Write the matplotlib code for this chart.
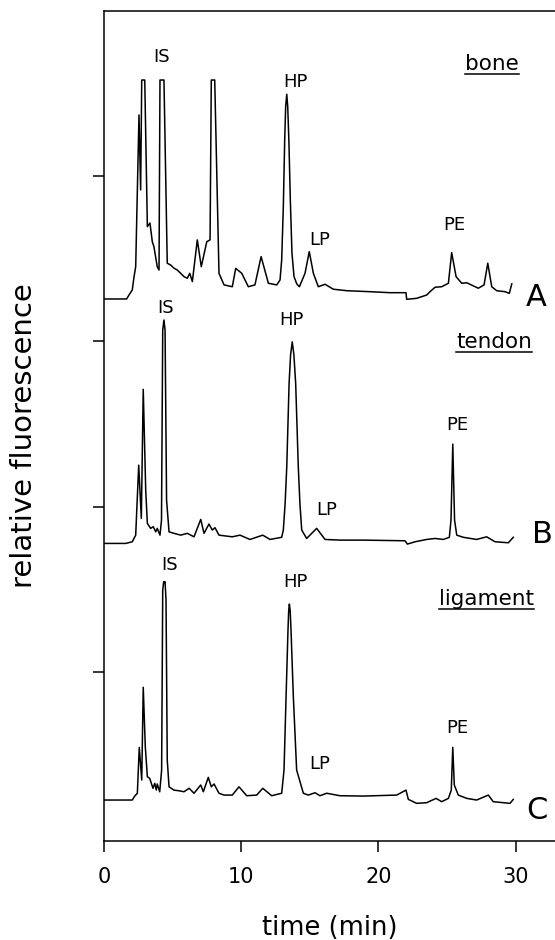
import matplotlib
matplotlib.use("Agg")
import matplotlib.pyplot as plt
import numpy as np

# ---------------- data (time in min, signal above own baseline) ----------------
time_A = [0.0, 1.65, 1.82, 2.06, 2.19, 2.31, 2.55, 2.67, 2.75, 2.97, 3.16, 3.35, 3.52, 3.64,
          3.88, 4.01, 4.08, 4.37, 4.61, 4.86, 5.10, 5.34, 5.59, 5.83, 6.07, 6.25, 6.44, 6.80,
          7.09, 7.49, 7.73, 7.82, 8.07, 8.38, 8.75, 9.35, 9.60, 10.04, 10.52, 11.0, 11.45,
          11.98, 12.59, 12.83, 12.95, 13.07, 13.17, 13.24, 13.32, 13.39, 13.48, 13.58, 13.70,
          13.85, 14.05, 14.24, 14.65, 14.96, 15.26, 15.62, 16.11, 16.71, 17.69, 19.39, 20.85,
          22.01, 22.06, 22.79, 23.52, 23.76, 24.13, 24.61, 25.10, 25.34, 25.66, 26.07, 26.44,
          26.92, 27.28, 27.70, 27.97, 28.26, 28.62, 29.23, 29.54, 29.72]
signal_A = [0.0, 0.0, 0.024, 0.054, 0.135, 0.195, 1.112, 0.659, 1.323, 1.323, 0.437, 0.459,
            0.346, 0.316, 0.195, 0.175, 1.323, 1.323, 0.216, 0.205, 0.186, 0.175, 0.155, 0.135,
            0.125, 0.155, 0.105, 0.357, 0.195, 0.346, 0.357, 1.323, 1.323, 0.155, 0.085, 0.074,
            0.185, 0.155, 0.074, 0.085, 0.256, 0.095, 0.085, 0.115, 0.236, 0.558, 0.961, 1.162,
            1.237, 1.162, 0.941, 0.598, 0.276, 0.135, 0.091, 0.074, 0.155, 0.286, 0.155, 0.074,
            0.089, 0.059, 0.050, 0.044, 0.038, 0.038, -0.002, 0.004, 0.024, 0.044, 0.071, 0.074,
            0.095, 0.280, 0.135, 0.095, 0.098, 0.079, 0.065, 0.085, 0.216, 0.074, 0.050, 0.044,
            0.034, 0.091]

time_B = [0.0, 1.58, 2.06, 2.31, 2.53, 2.72, 2.86, 3.04, 3.16, 3.40, 3.59, 3.77, 3.88, 4.08,
          4.19, 4.28, 4.37, 4.45, 4.56, 4.74, 5.10, 5.59, 6.07, 6.56, 7.05, 7.29, 7.65, 7.89,
          8.09, 8.38, 9.35, 9.91, 10.64, 11.57, 12.10, 12.95, 13.07, 13.20, 13.32, 13.49, 13.60,
          13.72, 13.84, 13.97, 14.16, 14.28, 14.41, 14.77, 15.50, 16.11, 17.20, 18.90, 21.94,
          22.11, 22.67, 23.52, 24.13, 24.73, 25.17, 25.29, 25.42, 25.55, 25.71, 26.19, 27.16,
          27.89, 28.50, 29.47, 29.83]
signal_B = [0.010, 0.010, 0.020, 0.060, 0.483, 0.161, 0.941, 0.332, 0.131, 0.101, 0.111, 0.080,
            0.101, 0.060, 0.151, 1.299, 1.360, 1.299, 0.272, 0.080, 0.071, 0.060, 0.071, 0.050,
            0.155, 0.071, 0.127, 0.091, 0.105, 0.060, 0.050, 0.060, 0.034, 0.060, 0.034, 0.047,
            0.091, 0.250, 0.473, 0.977, 1.150, 1.228, 1.150, 0.977, 0.473, 0.250, 0.091, 0.040,
            0.101, 0.034, 0.030, 0.030, 0.026, 0.006, 0.020, 0.034, 0.040, 0.034, 0.047, 0.151,
            0.610, 0.151, 0.060, 0.047, 0.034, 0.050, 0.020, 0.014, 0.047]

time_C = [0.0, 2.06, 2.24, 2.43, 2.57, 2.75, 2.86, 3.01, 3.16, 3.33, 3.45, 3.57, 3.70, 3.81,
          3.88, 4.06, 4.20, 4.28, 4.35, 4.45, 4.52, 4.61, 4.74, 5.10, 5.47, 5.83, 6.20, 6.56,
          7.05, 7.24, 7.60, 7.82, 8.02, 8.38, 8.75, 9.35, 9.84, 10.40, 11.13, 11.57, 12.22,
          12.95, 13.12, 13.27, 13.41, 13.46, 13.51, 13.57, 13.63, 13.80, 14.04, 14.53, 14.89,
          15.38, 15.74, 16.23, 17.20, 18.90, 21.33, 22.01, 22.18, 22.79, 23.52, 24.20, 24.61,
          25.10, 25.31, 25.42, 25.53, 25.82, 26.44, 27.16, 28.01, 28.37, 29.59, 29.83]
signal_C = [0.006, 0.006, 0.030, 0.047, 0.324, 0.127, 0.687, 0.328, 0.147, 0.137, 0.107, 0.077,
            0.107, 0.066, 0.103, 0.056, 0.187, 1.275, 1.325, 1.325, 1.215, 0.248, 0.086, 0.066,
            0.062, 0.056, 0.077, 0.047, 0.097, 0.056, 0.143, 0.086, 0.103, 0.047, 0.036, 0.036,
            0.086, 0.032, 0.036, 0.077, 0.032, 0.047, 0.187, 0.630, 1.033, 1.150, 1.190, 1.150,
            1.033, 0.630, 0.187, 0.047, 0.036, 0.050, 0.032, 0.047, 0.032, 0.030, 0.036, 0.066,
            0.010, -0.014, -0.010, 0.016, -0.004, 0.016, 0.066, 0.324, 0.097, 0.036, 0.016,
            0.006, 0.036, -0.004, -0.014, 0.010]

tissues = ["bone", "tendon", "ligament"]
panel_letters = ["A", "B", "C"]
peak_names = ["IS", "HP", "LP", "PE"]
x_ticks = [0, 10, 20, 30]
y_ticks = [1, 2, 3, 4]

# ---------------- figure ----------------
plt.rcParams['font.family'] = ['DejaVu Sans']
fig = plt.figure(figsize=(5.55, 9.4), dpi=100)
ax = fig.add_axes([104 / 555, 99 / 940, 451 / 555, 830 / 940])

offsets = [3.254, 1.767, 0.2205]
traces = [(time_A, signal_A), (time_B, signal_B), (time_C, signal_C)]
for (t, s), off in zip(traces, offsets):
    ax.plot(t, np.array(s) + off, color="black", lw=1.1, solid_joinstyle="round")

ax.set_xlim(0, 32.87)
ax.set_ylim(-0.021, 4.994)
ax.set_xticks(x_ticks)
ax.set_xticklabels([str(v) for v in x_ticks], fontsize=15)
ax.set_yticks(y_ticks)
ax.set_yticklabels([])
ax.tick_params(axis="both", direction="out", length=8, width=1.1, color="black")
ax.tick_params(axis="x", pad=11)
ax.spines["right"].set_visible(False)
for sp in ["left", "bottom", "top"]:
    ax.spines[sp].set_linewidth(1.1)

# peak labels: (x, baseline y) for IS, HP, LP, PE per panel
label_pos = [
    [(4.21, 4.685), (13.92, 4.537), (15.74, 3.582), (25.53, 3.672)],
    [(4.51, 3.167), (13.68, 3.097), (16.23, 1.949), (25.74, 2.462)],
    [(4.75, 1.616), (13.92, 1.515), (15.69, 0.412), (25.78, 0.633)],
]
for panel in label_pos:
    for name, (x, y) in zip(peak_names, panel):
        ax.text(x, y, name, fontsize=13, ha="center", va="baseline")

letter_pos = [(31.51, 3.211), (31.95, 1.778), (31.54, 0.110)]
for letter, (x, y) in zip(panel_letters, letter_pos):
    ax.text(x, y, letter, fontsize=22, ha="center", va="baseline", clip_on=False)

tissue_pos = [(28.28, 4.637), (28.43, 2.958), (27.89, 1.405)]
tissue_texts = []
for name, (x, y) in zip(tissues, tissue_pos):
    tissue_texts.append(ax.text(x, y, name, fontsize=15.5, ha="center", va="baseline"))

fig.canvas.draw()
renderer = fig.canvas.get_renderer()
inv = ax.transData.inverted()
for txt, (x, y) in zip(tissue_texts, tissue_pos):
    bb = txt.get_window_extent(renderer)
    (x0, _), (x1, _) = inv.transform([(bb.x0, 0), (bb.x1, 0)])
    ax.plot([x0, x1], [y - 0.025, y - 0.025], color="black", lw=1.1)

fig.text(24 / 555, 1 - 436 / 940, "relative fluorescence", rotation=90,
         fontsize=21, ha="center", va="center")
fig.text(330 / 555, 1 - 928 / 940, "time (min)", fontsize=18.5, ha="center", va="center")

fig.savefig("out.png", dpi=100)
